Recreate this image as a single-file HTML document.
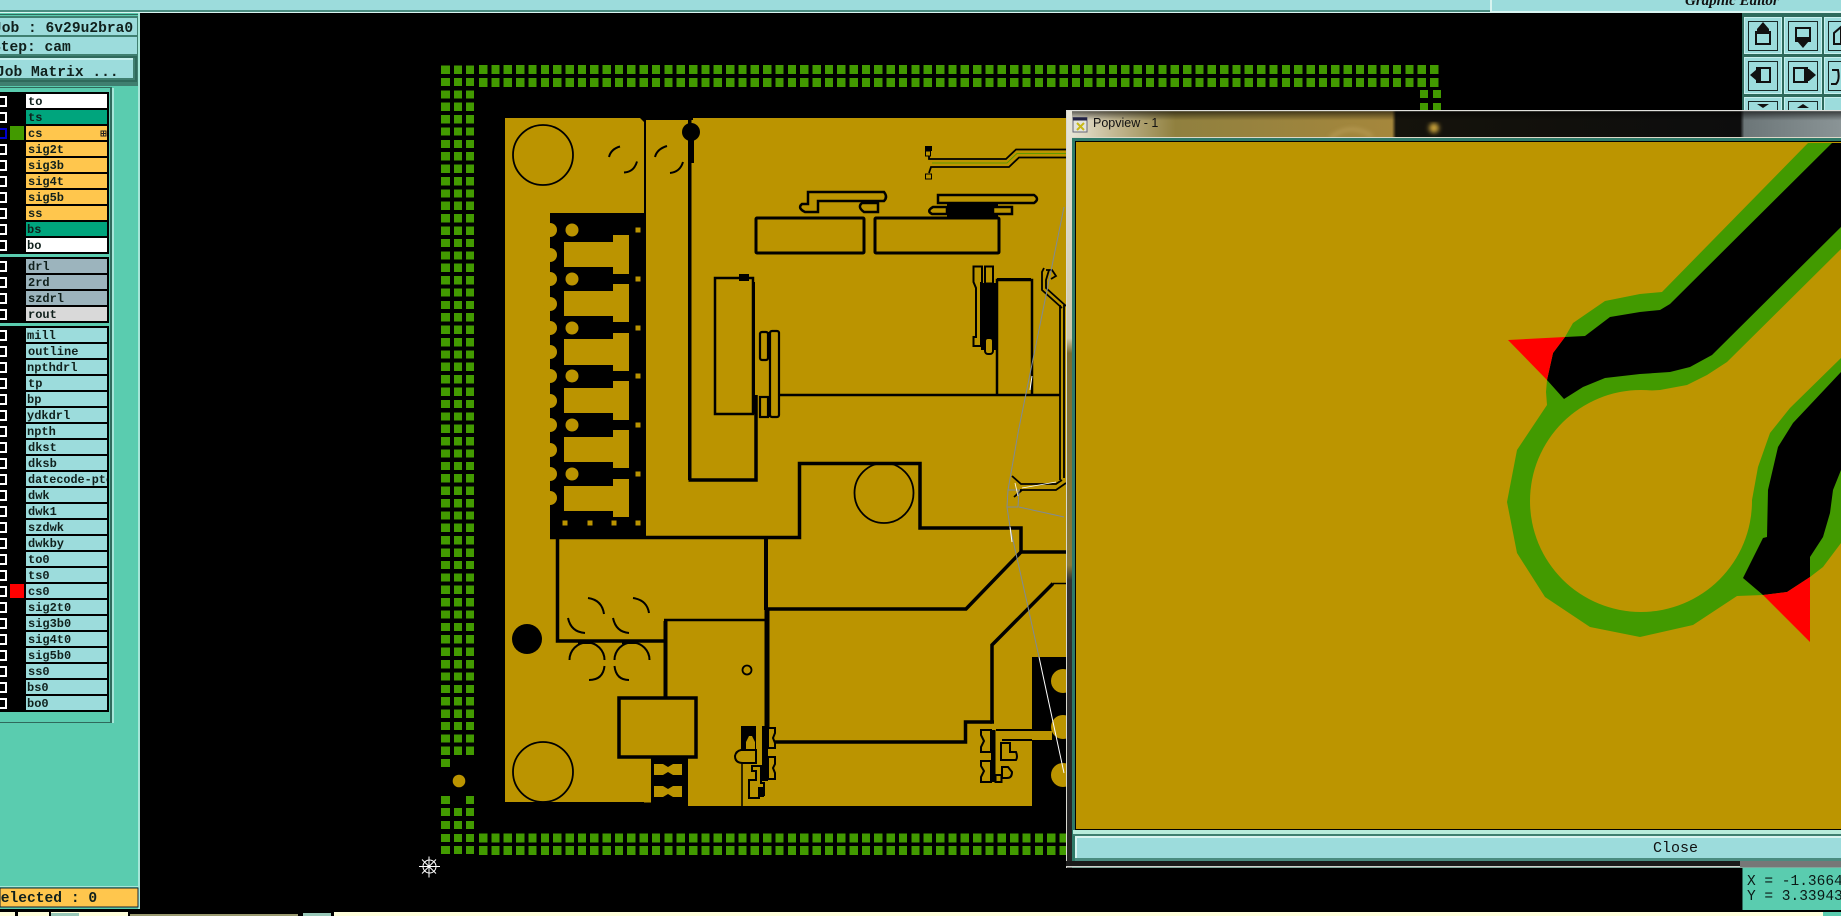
<!DOCTYPE html>
<html><head><meta charset="utf-8"><title>Popview</title>
<style>html,body{margin:0;padding:0;background:#000;overflow:hidden}svg{display:block}
.m{font-family:"Liberation Mono",monospace;font-weight:bold;fill:#10201c}
.r{font-size:12px}.b{font-size:14.6px}
.l{fill:none;stroke:#000;stroke-linejoin:miter}
.ck{fill:#000;stroke:#fff;stroke-width:2}
.pd{fill:none;stroke:#429a00;shape-rendering:crispEdges}
</style></head><body>
<svg width="1841" height="916" viewBox="0 0 1841 916" xmlns="http://www.w3.org/2000/svg">
<defs>
<linearGradient id="tb" x1="0" x2="1" y1="0" y2="0">
<stop offset="0" stop-color="#ece9dc"/><stop offset=".06" stop-color="#c4b994"/><stop offset=".14" stop-color="#90803f"/><stop offset=".42" stop-color="#a5873c"/><stop offset=".425" stop-color="#15130c"/><stop offset=".87" stop-color="#0d0d0d"/><stop offset=".875" stop-color="#6c7678"/><stop offset="1" stop-color="#8a9496"/>
</linearGradient>
<linearGradient id="tt" x1="0" x2="0" y1="0" y2="1"><stop offset="0" stop-color="#000" stop-opacity=".6"/><stop offset=".35" stop-color="#000" stop-opacity="0"/></linearGradient>
<linearGradient id="fl" x1="0" x2="0" y1="0" y2="1"><stop offset="0" stop-color="#e8e6da"/><stop offset=".3" stop-color="#cfc8a8"/><stop offset=".32" stop-color="#7c6c30"/><stop offset=".6" stop-color="#8a7a3a"/><stop offset=".62" stop-color="#333"/><stop offset="1" stop-color="#222"/></linearGradient>
<filter id="bl"><feGaussianBlur stdDeviation="2.5"/></filter>
</defs>
<rect width="1841" height="916" fill="#000"/>

<!-- top bar -->
<rect width="1490" height="10" fill="#9cdcdc"/>
<rect y="10" width="1490" height="2" fill="#4a8c80"/>
<rect y="12" width="1490" height="1" fill="#d8f4f0"/>
<rect x="1490" width="351" height="12" fill="#9cdcdc"/>
<rect x="1490" width="2" height="13" fill="#d8f4f0"/>
<rect x="1490" y="11" width="351" height="2" fill="#d8f4f0"/>
<text x="1685" y="5" font-family="Liberation Serif,serif" font-style="italic" font-weight="bold" font-size="15" fill="#111">Graphic Editor</text>

<!-- left panel -->
<rect y="13" width="140" height="896" fill="#5accaf"/>
<rect y="14" width="140" height="1" fill="#2f6a5c"/>
<rect x="138" y="13" width="2" height="896" fill="#a6e6d8"/>
<rect y="16" width="138" height="70" fill="#3f7f70"/>
<rect y="18" width="137" height="17" fill="#9cdcdc"/>
<rect y="37" width="137" height="17" fill="#9cdcdc"/>
<rect y="56" width="137" height="26" fill="#2f6a5c"/>
<rect y="58" width="135" height="22" fill="#9cdcdc"/>
<rect y="58" width="135" height="2" fill="#c8f0ee"/>
<rect x="133" y="58" width="2" height="22" fill="#3f7f70"/>
<rect y="78" width="135" height="2" fill="#3f7f70"/>
<text class="m b" x="-7" y="32">Job : 6v29u2bra0</text>
<text class="m b" x="-8" y="51">Step: cam</text>
<text class="m b" x="-4" y="76">Job Matrix ...</text>

<rect y="87" width="112" height="636" fill="#2f6a5c"/>
<rect x="112" y="88" width="2" height="635" fill="#a6e6d8"/>
<rect y="88" width="110" height="634" fill="#5accaf"/>
<rect y="92" width="109" height="162" fill="#000"/>
<rect y="257" width="109" height="66" fill="#000"/>
<rect y="326" width="109" height="386" fill="#000"/>

<g>
<rect x="26" y="94" width="81" height="14" fill="#fff"/><text class="m r" x="28" y="105">to</text>
<rect x="26" y="110" width="81" height="14" fill="#00a57d"/><text class="m r" x="28" y="121">ts</text>
<rect x="26" y="126" width="81" height="14" fill="#ffc64d"/><text class="m r" x="28" y="137">cs</text>
<rect x="26" y="142" width="81" height="14" fill="#ffc64d"/><text class="m r" x="28" y="153">sig2t</text>
<rect x="26" y="158" width="81" height="14" fill="#ffc64d"/><text class="m r" x="28" y="169">sig3b</text>
<rect x="26" y="174" width="81" height="14" fill="#ffc64d"/><text class="m r" x="28" y="185">sig4t</text>
<rect x="26" y="190" width="81" height="14" fill="#ffc64d"/><text class="m r" x="28" y="201">sig5b</text>
<rect x="26" y="206" width="81" height="14" fill="#ffc64d"/><text class="m r" x="28" y="217">ss</text>
<rect x="26" y="222" width="81" height="14" fill="#00a57d"/><text class="m r" x="27" y="233">bs</text>
<rect x="26" y="238" width="81" height="14" fill="#fff"/><text class="m r" x="27" y="249">bo</text>
<rect x="26" y="259" width="81" height="14" fill="#9cb4bd"/><text class="m r" x="28" y="270">drl</text>
<rect x="26" y="275" width="81" height="14" fill="#9cb4bd"/><text class="m r" x="28" y="286">2rd</text>
<rect x="26" y="291" width="81" height="14" fill="#9cb4bd"/><text class="m r" x="28" y="302">szdrl</text>
<rect x="26" y="307" width="81" height="14" fill="#d9d9d9"/><text class="m r" x="28" y="318">rout</text>
<rect x="26" y="328" width="81" height="14" fill="#9cdcdc"/><text class="m r" x="27" y="339">mill</text>
<rect x="26" y="344" width="81" height="14" fill="#9cdcdc"/><text class="m r" x="28" y="355">outline</text>
<rect x="26" y="360" width="81" height="14" fill="#9cdcdc"/><text class="m r" x="27" y="371">npthdrl</text>
<rect x="26" y="376" width="81" height="14" fill="#9cdcdc"/><text class="m r" x="28" y="387">tp</text>
<rect x="26" y="392" width="81" height="14" fill="#9cdcdc"/><text class="m r" x="27" y="403">bp</text>
<rect x="26" y="408" width="81" height="14" fill="#9cdcdc"/><text class="m r" x="27" y="419">ydkdrl</text>
<rect x="26" y="424" width="81" height="14" fill="#9cdcdc"/><text class="m r" x="27" y="435">npth</text>
<rect x="26" y="440" width="81" height="14" fill="#9cdcdc"/><text class="m r" x="28" y="451">dkst</text>
<rect x="26" y="456" width="81" height="14" fill="#9cdcdc"/><text class="m r" x="28" y="467">dksb</text>
<svg x="26" y="472" width="81" height="14" overflow="hidden"><rect width="81" height="14" fill="#9cdcdc"/><text class="m" font-size="11.8" x="2" y="11">datecode-ptc</text></svg>
<rect x="26" y="488" width="81" height="14" fill="#9cdcdc"/><text class="m r" x="28" y="499">dwk</text>
<rect x="26" y="504" width="81" height="14" fill="#9cdcdc"/><text class="m r" x="28" y="515">dwk1</text>
<rect x="26" y="520" width="81" height="14" fill="#9cdcdc"/><text class="m r" x="28" y="531">szdwk</text>
<rect x="26" y="536" width="81" height="14" fill="#9cdcdc"/><text class="m r" x="28" y="547">dwkby</text>
<rect x="26" y="552" width="81" height="14" fill="#9cdcdc"/><text class="m r" x="28" y="563">to0</text>
<rect x="26" y="568" width="81" height="14" fill="#9cdcdc"/><text class="m r" x="28" y="579">ts0</text>
<rect x="26" y="584" width="81" height="14" fill="#9cdcdc"/><text class="m r" x="28" y="595">cs0</text>
<rect x="26" y="600" width="81" height="14" fill="#9cdcdc"/><text class="m r" x="28" y="611">sig2t0</text>
<rect x="26" y="616" width="81" height="14" fill="#9cdcdc"/><text class="m r" x="28" y="627">sig3b0</text>
<rect x="26" y="632" width="81" height="14" fill="#9cdcdc"/><text class="m r" x="28" y="643">sig4t0</text>
<rect x="26" y="648" width="81" height="14" fill="#9cdcdc"/><text class="m r" x="28" y="659">sig5b0</text>
<rect x="26" y="664" width="81" height="14" fill="#9cdcdc"/><text class="m r" x="28" y="675">ss0</text>
<rect x="26" y="680" width="81" height="14" fill="#9cdcdc"/><text class="m r" x="27" y="691">bs0</text>
<rect x="26" y="696" width="81" height="14" fill="#9cdcdc"/><text class="m r" x="27" y="707">bo0</text>
</g>
<path d="M-3 97h9v9h-9zM-3 113h9v9h-9zM-3 145h9v9h-9zM-3 161h9v9h-9zM-3 177h9v9h-9zM-3 193h9v9h-9zM-3 209h9v9h-9zM-3 225h9v9h-9zM-3 241h9v9h-9zM-3 262h9v9h-9zM-3 278h9v9h-9zM-3 294h9v9h-9zM-3 310h9v9h-9zM-3 331h9v9h-9zM-3 347h9v9h-9zM-3 363h9v9h-9zM-3 379h9v9h-9zM-3 395h9v9h-9zM-3 411h9v9h-9zM-3 427h9v9h-9zM-3 443h9v9h-9zM-3 459h9v9h-9zM-3 475h9v9h-9zM-3 491h9v9h-9zM-3 507h9v9h-9zM-3 523h9v9h-9zM-3 539h9v9h-9zM-3 555h9v9h-9zM-3 571h9v9h-9zM-3 587h9v9h-9zM-3 603h9v9h-9zM-3 619h9v9h-9zM-3 635h9v9h-9zM-3 651h9v9h-9zM-3 667h9v9h-9zM-3 683h9v9h-9zM-3 699h9v9h-9z" class="ck"/>
<rect x="-3" y="129" width="9" height="9" fill="#000" stroke="#0000d0" stroke-width="2"/>
<rect x="10" y="126" width="14" height="14" fill="#429a00"/>
<rect x="10" y="584" width="14" height="14" fill="#f00"/>
<rect x="101" y="131" width="5" height="5" fill="none" stroke="#222" stroke-width="1"/><path d="M103.500 131v5M101 133.500h5" stroke="#222"/>

<rect y="886" width="139" height="1" fill="#a6e6d8"/>
<rect y="888" width="138" height="19" fill="#ffc64d" stroke="#123" stroke-width="1"/>
<text class="m b" x="-8" y="902">Selected : 0</text>
<rect y="909" width="140" height="3" fill="#000"/>

<!-- bottom strip -->
<rect y="912" width="1841" height="4" fill="#ffffdc"/>
<rect x="15" y="912" width="3" height="4" fill="#000"/>
<rect x="49" y="912" width="2" height="4" fill="#000"/>
<rect x="51" y="913" width="28" height="3" fill="#98c8b8"/>
<rect x="128" y="912" width="172" height="4" fill="#000"/>
<rect x="130" y="914" width="168" height="2" fill="#9a9a70"/>
<rect x="300" y="912" width="34" height="4" fill="#000"/>
<rect x="303" y="913" width="28" height="3" fill="#98c8b8"/>
<rect x="1823" y="912" width="18" height="4" fill="#5accaf"/>

<!-- pad grid -->
<g class="pd">
<path d="M479 69.500H1439M479 82.500H1439M479 838H1079M479 850.500H1079" stroke-width="9" stroke-dasharray="8.300 4.050"/>
<path d="M445.500 65.500V757" stroke-width="9" stroke-dasharray="8.300 4.085"/>
<path d="M458 65.500V757M470 65.500V757" stroke-width="8" stroke-dasharray="8.300 4.085"/>
</g>
<rect x="441" y="759" width="9" height="8" fill="#429a00"/>
<circle cx="459" cy="781" r="6.300" fill="#bb9400"/>
<rect x="441" y="796" width="9" height="8" fill="#429a00"/><rect x="466" y="796" width="8" height="8" fill="#429a00"/>
<rect x="441" y="808" width="9" height="8" fill="#429a00"/><rect x="454" y="808" width="8" height="8" fill="#429a00"/><rect x="466" y="808" width="8" height="8" fill="#429a00"/>
<rect x="441" y="821" width="9" height="8" fill="#429a00"/><rect x="454" y="821" width="8" height="8" fill="#429a00"/><rect x="466" y="821" width="8" height="8" fill="#429a00"/>
<rect x="441" y="834" width="9" height="8" fill="#429a00"/><rect x="454" y="834" width="8" height="8" fill="#429a00"/><rect x="466" y="834" width="8" height="8" fill="#429a00"/>
<rect x="441" y="846" width="9" height="8" fill="#429a00"/><rect x="454" y="846" width="8" height="8" fill="#429a00"/><rect x="466" y="846" width="8" height="8" fill="#429a00"/>
<rect x="1420" y="90" width="8" height="8" fill="#429a00"/><rect x="1433" y="90" width="8" height="8" fill="#429a00"/>
<rect x="1420" y="103" width="8" height="7" fill="#429a00"/><rect x="1433" y="103" width="8" height="7" fill="#429a00"/>

<!-- spider -->
<g stroke="#fff" stroke-width="1" fill="none"><path d="M429 856.500v21M419 866.500h21M422 859.500l14 14M436 859.500l-14 14"/><circle cx="429.500" cy="866.500" r="6.500"/></g>

<!-- board -->
<rect x="505" y="118" width="139" height="684" fill="#bb9400"/>
<rect x="646" y="120" width="420" height="686" fill="#bb9400"/>
<rect x="693" y="118" width="373" height="10" fill="#bb9400"/>
<rect x="644" y="537" width="2" height="266" fill="#bb9400"/>
<path d="M644 118L640 118L644 122Z" fill="#000"/>
<rect x="644" y="120" width="2" height="100" fill="#000"/>
<!-- connector black block -->
<rect x="550" y="213" width="96" height="324" fill="#000"/>
<g fill="#bb9400">
<circle cx="550" cy="230" r="7"/><circle cx="550" cy="255" r="7"/><circle cx="550" cy="279" r="7"/><circle cx="550" cy="304" r="7"/><circle cx="550" cy="328" r="7"/><circle cx="550" cy="352" r="7"/><circle cx="550" cy="376" r="7"/><circle cx="550" cy="401" r="7"/><circle cx="550" cy="425" r="7"/><circle cx="550" cy="450" r="7"/><circle cx="550" cy="474" r="7"/><circle cx="550" cy="498" r="7"/>
<circle cx="572" cy="230" r="6.500"/><circle cx="572" cy="279" r="6.500"/><circle cx="572" cy="328" r="6.500"/><circle cx="572" cy="376" r="6.500"/><circle cx="572" cy="425" r="6.500"/><circle cx="572" cy="474" r="6.500"/>
<rect x="635.500" y="227.500" width="5" height="5"/><rect x="635.500" y="276.500" width="5" height="5"/><rect x="635.500" y="325.500" width="5" height="5"/><rect x="635.500" y="373.500" width="5" height="5"/><rect x="635.500" y="422.500" width="5" height="5"/><rect x="635.500" y="471.500" width="5" height="5"/>
<rect x="562.500" y="520.500" width="5" height="5"/><rect x="587.500" y="520.500" width="5" height="5"/><rect x="611.500" y="520.500" width="5" height="5"/><rect x="635.500" y="520.500" width="5" height="5"/>
<path d="M564 242H613V235H629V274H613V267H564Z"/>
<path d="M564 291H613V284H629V322H613V316H564Z"/>
<path d="M564 339H613V333H629V371H613V365H564Z"/>
<path d="M564 388H613V381H629V420H613V413H564Z"/>
<path d="M564 437H613V430H629V468H613V462H564Z"/>
<path d="M564 486H613V479H629V517H613V511H564Z"/>
</g>
<!-- big lines -->
<g class="l" stroke-width="1.800">
<circle cx="543" cy="155" r="30"/><circle cx="543" cy="772" r="30"/>
<ellipse cx="884" cy="493" rx="29.500" ry="30"/>
<circle cx="747" cy="670" r="4.500"/>
</g>
<rect x="520" y="802" width="45" height="2" fill="#000"/>
<circle cx="527" cy="639" r="15" fill="#000"/>
<circle cx="691" cy="132" r="9" fill="#000"/>
<rect x="688" y="118" width="3.500" height="362" fill="#000"/>
<rect x="688" y="135" width="6" height="28" fill="#000"/>
<g class="l" stroke-width="3.500">
<path d="M688.500 480H756V395"/>
<path d="M550 537.500H799.500V463.500H920V528H1021V552H1066"/>
<path d="M1021 552L966 609H766"/>
<path d="M557.500 537V641H665"/>
<path d="M994 722H992V645L1053 583.500"/>
<path d="M766 742H965.500V722H992"/>
</g>
<path d="M1053 583.500H1066" stroke="#000" stroke-width="1.500"/>
<path d="M766 537V610" stroke="#000" stroke-width="4"/>
<path d="M767 608V731" stroke="#000" stroke-width="5"/>
<path d="M665.500 621V698" stroke="#000" stroke-width="4"/>
<path d="M664 620H766" stroke="#000" stroke-width="2.500"/>
<rect x="619" y="698" width="77" height="59" fill="none" stroke="#000" stroke-width="3.500"/>
<rect x="619" y="696.500" width="77" height="3" fill="#000"/>
<!-- usb -->
<rect x="651" y="757" width="37" height="50" fill="#000"/>
<path d="M654 764L663 764L668 767L673 764L682 764V775H673L668 772L663 775H654Z" fill="#bb9400"/>
<path d="M654 786H663L668 789L673 786H682V797H673L668 794L663 797H654Z" fill="#bb9400"/>
<rect x="505" y="802.500" width="146" height="5" fill="#000"/>
<rect x="651" y="800" width="37" height="8" fill="#000"/>
<!-- arcs -->
<g class="l" stroke-width="2">
<path d="M609 157Q611 149 620 146.500"/><path d="M624 172.500Q634 172 637 161.500"/>
<path d="M655 157Q657 149 667 146"/><path d="M670 173Q680 172 683 162"/>
<path d="M588 598Q602 600 604 614"/><path d="M568 618Q571 632 585 633"/>
<path d="M633 598Q647 600 649 613"/><path d="M613 618Q616 632 629 633"/>
<path d="M569.500 660A17.500 17.500 0 0 1 604.500 660"/>
<path d="M604.500 666Q603 680 589 680"/>
<path d="M614.500 660A17.500 17.500 0 0 1 649.500 660"/>
<path d="M614.500 666Q616 680 629 680"/>
</g>
<rect x="578" y="640" width="15" height="4" fill="#000"/><rect x="622" y="640" width="16" height="4" fill="#000"/>

<!-- box left -->
<rect x="715" y="278" width="38" height="136" fill="none" stroke="#000" stroke-width="2.500"/>
<rect x="739" y="274" width="10" height="7" fill="#000"/>
<rect x="752.500" y="282" width="2.500" height="132" fill="#000"/>
<!-- comps -->
<g class="l" stroke-width="2.200">
<rect x="760" y="332" width="8" height="28" rx="2" fill="#bb9400"/>
<rect x="770" y="331" width="9" height="86" rx="2" fill="#bb9400"/>
<rect x="760" y="397" width="8" height="20" fill="#bb9400"/>
</g>
<rect x="768" y="332" width="2" height="24" fill="#000"/><rect x="768" y="398" width="3" height="19" fill="#000"/>
<path d="M778 395H1060" stroke="#000" stroke-width="2.500"/>
<g stroke="#000" stroke-width="2.500" fill="#bb9400">
<path d="M808 192H884Q888 197 884 201H818V212H805Q797 208 802 204H808Z"/>
<path d="M862 203H878V212H864Q857 207 862 203Z"/>
<rect x="756" y="218" width="108" height="35" rx="1" stroke-width="3"/>
<rect x="875" y="218" width="124" height="35" rx="1" stroke-width="3"/>
</g>
<rect x="947" y="203" width="51" height="15" fill="#000"/>
<g stroke="#000" stroke-width="2.500" fill="#bb9400">
<path d="M938 195H1034Q1040 199 1034 203H938Z"/>
<path d="M933 207H947V214H932Q926 211 933 207Z"/>
<rect x="993" y="207" width="19" height="7"/>
</g>
<!-- tracks -->
<g fill="none" stroke="#000" stroke-width="1.800">
<path d="M929 151L929 159H1006L1016 149.500H1066"/>
<path d="M929 173L931 167H1009L1019 157.500H1066"/>
</g>
<path d="M932 163H1007L1017 153.500H1066" fill="none" stroke="#429a00" stroke-width=".8"/>
<rect x="925" y="146" width="7" height="5" fill="#000"/>
<rect x="925.500" y="151" width="5" height="5" fill="#bb9400" stroke="#000"/>
<rect x="925.500" y="174" width="6" height="5" fill="#bb9400" stroke="#000"/>
<!-- right comp -->
<rect x="981" y="283" width="16" height="67" fill="#000"/>
<g stroke="#000" stroke-width="2" fill="#bb9400">
<path d="M973.500 266.500H982V283H981V346H973.500V337H976V288L973.500 282Z"/>
<rect x="985" y="266.500" width="8" height="17"/>
<rect x="985" y="338" width="8" height="16" rx="3"/>
</g>
<path d="M997 394V280H1032V394" fill="none" stroke="#000" stroke-width="2.500"/>
<path d="M997 279.500H1031" stroke="#000" stroke-width="3"/>
<g fill="none" stroke="#000" stroke-width="1.800">
<path d="M1044 268L1042 272V290L1062 308"/>
<path d="M1049 270L1046 280V288L1066 306"/>
<path d="M1046 270H1052L1056 276L1051 279"/>
<path d="M1060 305V480M1064 305V478"/>
<path d="M1012 476L1021 484H1056L1062 480"/>
<path d="M1020 490H1056L1066 483"/>
<path d="M1022 490L1014 497"/>
</g>
<!-- lower comps -->
<rect x="741" y="726" width="15" height="24" fill="#000"/>
<path d="M746 742L749 736H752L755 742V755H746Z" fill="#bb9400"/>
<rect x="762" y="726" width="6" height="55" fill="#000"/>
<g stroke="#000" stroke-width="2" fill="#bb9400">
<path d="M768 728H775V733L773 738L775 743V748H768Z"/>
<path d="M768 757H775V764L773 768L775 773V779H768Z"/>
<path d="M741 750H756V763H743Q735 763 735 756Q736 751 741 750Z"/>
<path d="M749 780H756V771H752V766H761V783H764V795H759V798H749Z"/>
</g>
<rect x="758" y="787" width="6" height="10" fill="#000"/>
<path d="M742 763V806" stroke="#000" stroke-width="1.500"/>
<!-- right lower black -->
<rect x="1032" y="657" width="34" height="152" fill="#000"/>
<rect x="1032" y="731" width="20" height="9" fill="#bb9400"/>
<circle cx="1063" cy="681" r="12" fill="#bb9400"/><circle cx="1063" cy="727" r="12" fill="#bb9400"/><circle cx="1063" cy="775" r="12" fill="#bb9400"/>
<path d="M996 730H1046M1002 740H1032" stroke="#000" stroke-width="2"/>
<rect x="991" y="730" width="4.500" height="52" fill="#000"/>
<g stroke="#000" stroke-width="2" fill="#bb9400">
<path d="M981 730H991V752H981V747L984 741L981 735Z"/>
<path d="M981 761H991V782H981V777L984 771L981 766Z"/>
<rect x="995.500" y="775" width="6" height="7"/>
<path d="M1001 743H1010V752H1016Q1018 757 1016 760H1001Z"/>
<path d="M1002 767H1008L1012 772Q1012 778 1007 778H1002Z"/>
</g>
<rect y="806" x="505" width="561" height="6" fill="#000"/>
<!-- white/grey wire -->
<g fill="none" stroke="#7f8a96" stroke-width="1">
<path d="M1064 207L1018.600 430L1008 490L1007 507L1010 527L1028 607L1039 657"/>
<path d="M1008 490H1019L1018 507H1007M1019 507L1064 517"/>
</g>
<path d="M1039 657L1064 773" stroke="#fff" stroke-width="1" fill="none"/>
<path d="M1030 390L1032 376M1010 527L1012 542" stroke="#fff" stroke-width="1"/>
<path d="M1015 483L1018 496M1022 488L1056 482" stroke="#fff" stroke-width=".8"/>

<!-- toolbar -->
<rect x="1742" y="13" width="99" height="97" fill="#2f6a5c"/>
<g fill="#9cdcdc" stroke="#c8f0ee" stroke-width="1">
<rect x="1744.500" y="17.500" width="37" height="36"/><rect x="1784.500" y="17.500" width="37" height="36"/><rect x="1824.500" y="17.500" width="30" height="36"/>
<rect x="1744.500" y="57.500" width="37" height="36"/><rect x="1784.500" y="57.500" width="37" height="36"/><rect x="1824.500" y="57.500" width="30" height="36"/>
<rect x="1744.500" y="97.500" width="37" height="20"/><rect x="1784.500" y="97.500" width="37" height="20"/><rect x="1824.500" y="97.500" width="30" height="20"/>
</g>
<g fill="none" stroke="#1a2a28" stroke-width="1">
<rect x="1748.500" y="21.500" width="29" height="29"/><rect x="1788.500" y="21.500" width="29" height="29"/><rect x="1828.500" y="21.500" width="20" height="29"/>
<rect x="1748.500" y="61.500" width="29" height="29"/><rect x="1788.500" y="61.500" width="29" height="29"/><rect x="1828.500" y="61.500" width="20" height="29"/>
<rect x="1748.500" y="101.500" width="29" height="20"/><rect x="1788.500" y="101.500" width="29" height="20"/>
</g>
<g fill="none" stroke="#111" stroke-width="2">
<rect x="1756" y="32" width="14" height="12"/><rect x="1796" y="28" width="14" height="13"/>
<rect x="1757" y="68" width="13" height="14"/><rect x="1794" y="68" width="13" height="14"/>
<path d="M1834 44V33L1841 27V44ZM1841 27L1848 33"/>
<path d="M1832 70H1838Q1840 80 1836 84H1831"/>
</g>
<g fill="#111">
<path d="M1763 22L1769 29V34H1757V29Z"/><path d="M1803 48L1797 41V37H1809V41Z"/>
<path d="M1750 75L1757 69H1761V81H1757Z"/><path d="M1816 75L1809 69H1804V81H1809Z"/>
<path d="M1757 104H1769L1763 108ZM1797 108L1803 104L1809 108Z"/>
</g>

<!-- popview window -->
<rect x="1066" y="110" width="775" height="758" fill="#0a0a0a"/>
<rect x="1067" y="111" width="774" height="27" fill="url(#tb)"/>
<rect x="1067" y="111" width="774" height="27" fill="url(#tt)"/>
<g filter="url(#bl)"><circle cx="1434" cy="128" r="5" fill="#c9a23a"/><path d="M1330 138Q1350 122 1372 136" fill="none" stroke="#c5a862" stroke-width="2"/></g>
<rect x="1066" y="110" width="775" height="1.200" fill="#e0e0dc"/>
<rect x="1066" y="111" width="6" height="757" fill="url(#fl)"/>
<rect x="1066" y="111" width="1" height="757" fill="#d8d8d0"/>
<rect x="1072" y="137" width="769" height="1" fill="#dcd8c8"/>
<rect x="1072" y="138" width="769" height="730" fill="#2f7a68"/>
<rect x="1075" y="141" width="766" height="1" fill="#000"/>
<rect x="1075" y="141" width="1" height="689" fill="#000"/>
<!-- icon -->
<rect x="1073" y="117.500" width="14" height="14.500" fill="#e4e4dc" stroke="#667"/>
<rect x="1073" y="117.500" width="14" height="3" fill="#224"/>
<path d="M1077 123L1084 130M1084 123L1077 130" stroke="#c8b818" stroke-width="2"/>
<text x="1093" y="127" font-family="Liberation Sans,sans-serif" font-size="12.500" fill="#111">Popview - 1</text>
<rect x="1076" y="142" width="765" height="687" fill="#bc9500"/>

<!-- popview art: green base -->
<path d="M1565 337L1573 323L1605 301L1640 294L1662 292L1808 143H1841V543L1823 567L1810 577L1787 592L1763 595L1737 596L1693 625L1640 637L1590 627L1545 597L1517 553L1507 502L1517 450L1547 405L1546 392L1547 380Z" fill="#429a00"/>
<!-- gold keyhole -->
<path d="M1620 392L1660 390L1687 385L1707 375L1727 362L1841 249V358L1790 408L1770 433L1758 467L1752 500L1641 501Z" fill="#bc9500"/>
<circle cx="1641" cy="501" r="111" fill="#bc9500"/>
<!-- black traces -->
<path d="M1585 336L1610 317L1640 312L1660 310L1670 304L1832 143H1841V227L1712 355L1690 367L1670 372L1640 374L1605 378L1583 387L1564 399L1547 380L1553 353L1565 337Z" fill="#000"/>
<path d="M1841 372L1793 423L1778 447L1768 490L1767 537L1763 538L1743 578L1763 595L1787 592L1810 577V557L1823 537L1830 513L1833 490L1841 470Z" fill="#000"/>
<!-- red -->
<path d="M1508 340L1565 337L1553 353L1547 380Z" fill="#f00"/>
<path d="M1810 577V642L1763 595L1787 592Z" fill="#f00"/>

<!-- popview bottom -->
<rect x="1076" y="829" width="765" height="1" fill="#000"/>
<rect x="1073" y="830" width="768" height="4" fill="#b8ecdc"/>
<rect x="1073" y="834" width="768" height="2" fill="#3f7f70"/>
<rect x="1075" y="836" width="766" height="25" fill="#9cdcdc"/>
<rect x="1075" y="836" width="766" height="2" fill="#d8f4f0"/>
<rect x="1075" y="836" width="2" height="25" fill="#d8f4f0"/>
<rect x="1075" y="858" width="766" height="3" fill="#4a8c80"/>
<text x="1653" y="852" font-family="Liberation Mono,monospace" font-size="15" fill="#111">Close</text>
<rect x="1066" y="861" width="775" height="6" fill="#1a1a1a"/>
<rect x="1066" y="866" width="775" height="1.500" fill="#cfd0cc"/>
<rect x="1740" y="861" width="101" height="6" fill="#777"/>

<!-- coordinate box -->
<rect x="1742" y="868" width="99" height="42" fill="#5accaf"/>
<rect x="1742" y="868" width="1" height="42" fill="#2f6a5c"/>
<text x="1747" y="885" font-family="Liberation Mono,monospace" font-size="14.500" fill="#0a1a16">X = -1.36648</text>
<text x="1747" y="900" font-family="Liberation Mono,monospace" font-size="14.500" fill="#0a1a16">Y = 3.33943</text>
</svg>
</body></html>
